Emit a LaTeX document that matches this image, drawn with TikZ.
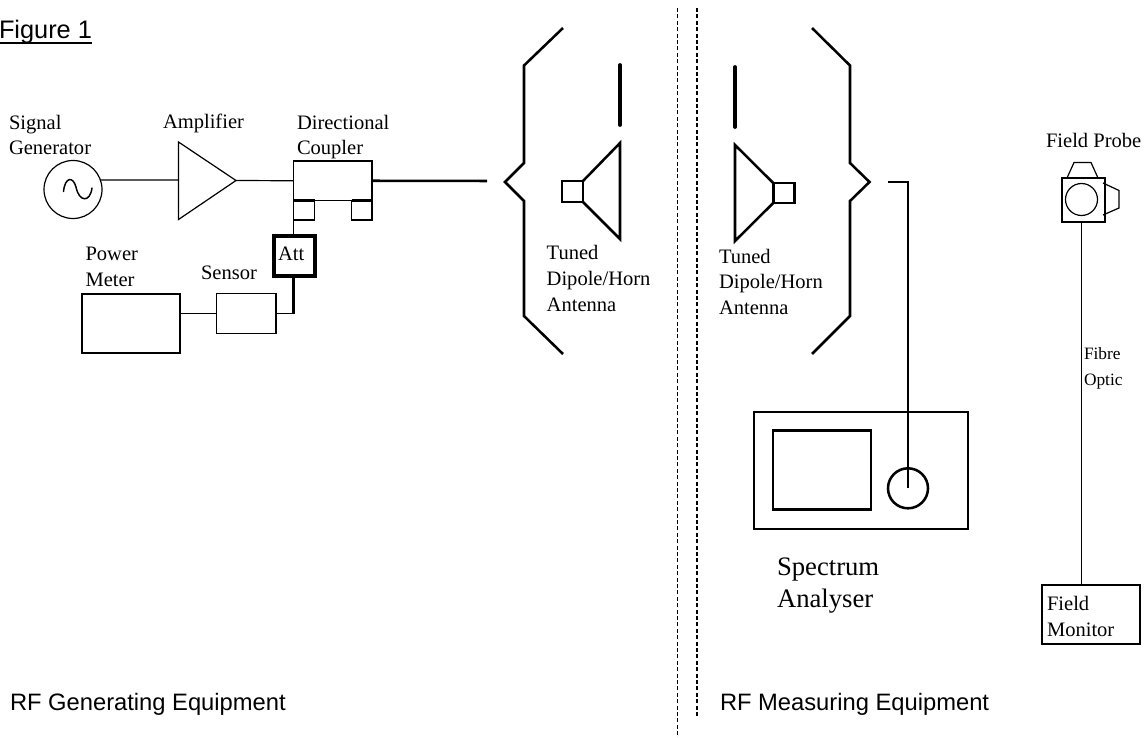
\documentclass[tikz,border=0pt]{standalone}
\usepackage{fontspec}
\setmainfont{Liberation Serif}
\setsansfont{Liberation Sans}
\usetikzlibrary{positioning,calc}
\tikzstyle{block} = [rectangle, draw, inner sep=0pt, outer sep=0pt, line width=0.9pt]
\tikzstyle{heavy} = [line width=1.9pt]
\tikzstyle{wire} = [line width=0.9pt]
\tikzstyle{rod} = [line width=2.8pt, line cap=round]
\tikzstyle{ring} = [circle, draw, inner sep=0pt, outer sep=0pt, line width=0.9pt]
\tikzstyle{lab} = [anchor=base west, inner sep=0pt, outer sep=0pt, align=left, font=\fontsize{15.4}{19.2}\selectfont]
\tikzstyle{title} = [anchor=base west, inner sep=0pt, outer sep=0pt, font=\sffamily\fontsize{17.8}{22}\selectfont]
\tikzstyle{partition} = [line width=0.8pt, dash pattern=on 3pt off 1.8pt]
\tikzset{sized/.style 2 args={minimum width=#1*0.75pt, minimum height=#2*0.75pt}}

\begin{document}
\begin{tikzpicture}[x=0.75pt, y=-0.75pt, line join=miter]
    \useasboundingbox (0,0) rectangle (1146,738);

    % Nodes
    \node [ring, minimum size=58*0.75pt] (gen) at (73,189.5) {};
    \node [block, sized={78.5}{39.5}] (coupler) at (332.75,180.75) {};
    \node [block, sized={21}{19.5}] (portA) at (304,210.25) {};
    \node [block, sized={20.5}{19.5}] (portB) at (361.75,210.25) {};
    \node [block, heavy, line width=2.3pt, sized={41}{40}] (att) at (294.5,256) {};
    \node [block, sized={59.5}{40}] (sensor) at (246.25,313.5) {};
    \node [block, sized={98}{59}] (power) at (131,323.5) {};

    \node [block, heavy, sized={21}{21}] (hornA) at (572.5,191.5) {};
    \node [block, heavy, sized={21}{20}] (hornB) at (783.75,193) {};

    \node [block, heavy, sized={214}{117}] (analyser) at (861,470.5) {};
    \node [block, heavy, sized={98}{78.5}] (screen) at (822,470) {};
    \node [ring, heavy, minimum size=40*0.75pt] (knob) at (908,488.3) {};

    \node [block, sized={43}{44}] (probe) at (1083.5,200) {};
    \node [ring, minimum size=32*0.75pt] (lens) at (1081.5,199.5) {};
    \node [block, sized={98}{59}] (monitor) at (1091,614.5) {};

    \coordinate (ampIn) at (178.5,180);
    \coordinate (ampTip) at (236,180.5);
    \coordinate (feedA) at (487,181);
    \coordinate (feedB) at (888,182);
    \coordinate (bend) at (293.5,313.5);

    % Amplifier, antennas and probe outlines
    \draw [wire] (178.5,142) -- (178.5,219.5) -- (ampTip) -- cycle;
    \draw [wire, line width=1.1pt, line cap=round] (63.5,191.5) .. controls (65,177) and (73,176) .. (76,187)
        .. controls (79,202) and (90,203) .. (92,188);
    \draw [heavy] (hornA.north east) -- (620,143) -- (620,239) -- (hornA.south east);
    \draw [heavy] (hornB.north west) -- (735,145) -- (735,241) -- (hornB.south west);
    \draw [rod] (620,65) -- (620,125);
    \draw [rod] (735,67) -- (735,127);
    \draw [heavy] (563,28) -- (524,65.5) -- (524,163) -- (505,182) -- (524,201) -- (524,316) -- (563,354);
    \draw [heavy] (812,28) -- (850,65.5) -- (850,163) -- (869.5,182) -- (850,201) -- (850,316) -- (812,354);
    \draw [wire] (1067,178) -- (1074,162.5) -- (1091,162.5) -- (1098,178);
    \draw [wire] (1103,183) -- (1119,190.5) -- (1119,208) -- (1103,215);

    % Partition
    \draw [partition] (677.5,8) -- (677.5,738);
    \draw [partition] (697,8) -- (697,718);

    % Connections
    \draw [wire] (gen.19) -- (ampIn);
    \draw [wire] (ampTip) -- (coupler.west);
    \draw [heavy] (coupler.east) -- (feedA);
    \draw [heavy] (portA.north west) -- (portA.north east);
    \draw [heavy] (portB.north west) -- (portB.north east);
    \draw [wire] (portA.south west) -- (portA.south west |- att.north);
    \draw [heavy] (att.south -| bend) -- (bend);
    \draw [wire] (sensor.east) -- (bend);
    \draw [wire] (power.east |- sensor.west) -- (sensor.west);
    \draw [heavy] (feedB) -| (knob.center);
    \draw [wire] (probe.south -| lens) -- (monitor.north -| lens);

    % Labels
    \node [lab] (genLab) at (9,155) {Signal\\Generator};
    \node [lab] (ampLab) at (163,129) {Amplifier};
    \node [lab] (couplerLab) at (297,155) {Directional\\Coupler};
    \node [lab] (attLab) at ([xshift=-16.5*0.75pt, yshift=-4*0.75pt]att.base) {Att};
    \node [lab] (powerLab) at (85.5,286) {Power\\Meter};
    \node [lab] (sensorLab) at (201,279) {Sensor};
    \node [lab] (tunedA) at (546.7,311) {Tuned\\Dipole/Horn\\Antenna};
    \node [lab] (tunedB) at (719,314.5) {Tuned\\Dipole/Horn\\Antenna};
    \node [lab] (probeLab) at (1046,148) {Field Probe};
    \node [lab, font=\fontsize{13}{19.2}\selectfont] (fibreLab) at (1084,385) {Fibre\\Optic};
    \node [lab, font=\fontsize{20}{24}\selectfont] (analyserLab) at (777,607) {Spectrum\\Analyser};
    \node [lab] (monitorLab) at (1047,636) {Field\\Monitor};
    \node [title, font=\sffamily\fontsize{19}{22}\selectfont] (figLab) at (-1,39) {Figure 1};
    \draw [line width=1.4pt] ([yshift=-3.2pt]figLab.base west) -- ([yshift=-3.2pt]figLab.base east);
    \node [title] (genTitle) at (10,710) {RF Generating Equipment};
    \node [title] (measTitle) at (720,710) {RF Measuring Equipment};
\end{tikzpicture}
\end{document}
